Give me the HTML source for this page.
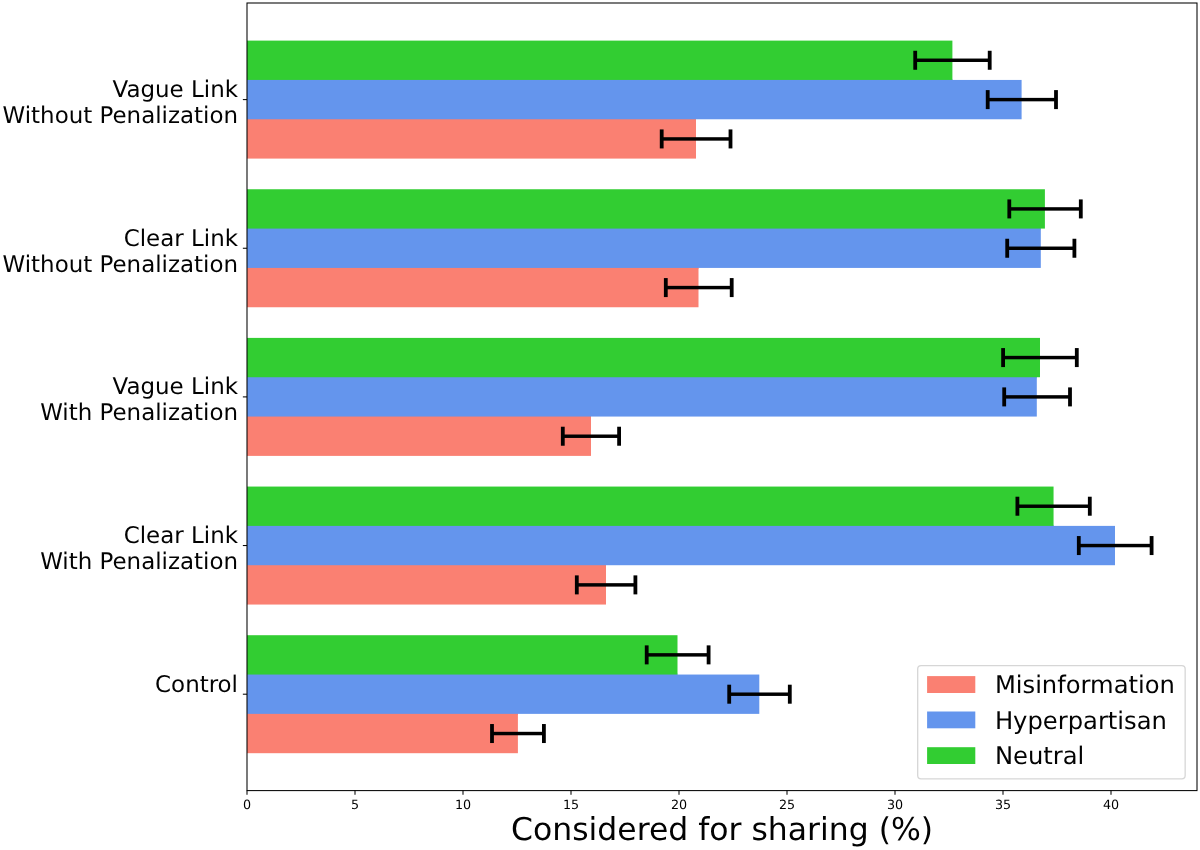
<!DOCTYPE html>
<html lang="en">
<head>
<meta charset="utf-8">
<title>Considered for sharing (%)</title>
<style>
html,body{margin:0;padding:0;background:#ffffff;}
body{width:1200px;height:850px;overflow:hidden;}
svg{display:block;will-change:transform;}
svg text{font-family:"DejaVu Sans","Liberation Sans",sans-serif;fill:#000000;text-rendering:geometricPrecision;opacity:0.99;}
</style>
</head>
<body>
<svg width="1200" height="850" viewBox="0 0 1200 850">
<rect x="0" y="0" width="1200" height="850" fill="#ffffff"/>
<g id="bars">
<rect x="247.00" y="118.26" width="449.00" height="2" fill="#fa8072"/>
<rect x="247.00" y="119.26" width="449.00" height="39.33" fill="#fa8072"/>
<rect x="247.00" y="78.94" width="705.40" height="2" fill="#6495ed"/>
<rect x="247.00" y="79.94" width="774.60" height="39.33" fill="#6495ed"/>
<rect x="247.00" y="40.60" width="705.40" height="39.33" fill="#32cd32"/>
<rect x="247.00" y="266.92" width="451.50" height="2" fill="#fa8072"/>
<rect x="247.00" y="267.92" width="451.50" height="39.33" fill="#fa8072"/>
<rect x="247.00" y="227.59" width="793.80" height="2" fill="#6495ed"/>
<rect x="247.00" y="228.59" width="793.80" height="39.33" fill="#6495ed"/>
<rect x="247.00" y="189.25" width="797.90" height="39.33" fill="#32cd32"/>
<rect x="247.00" y="415.56" width="344.00" height="2" fill="#fa8072"/>
<rect x="247.00" y="416.56" width="344.00" height="39.33" fill="#fa8072"/>
<rect x="247.00" y="376.23" width="789.80" height="2" fill="#6495ed"/>
<rect x="247.00" y="377.23" width="789.80" height="39.33" fill="#6495ed"/>
<rect x="247.00" y="337.90" width="793.00" height="39.33" fill="#32cd32"/>
<rect x="247.00" y="564.22" width="359.00" height="2" fill="#fa8072"/>
<rect x="247.00" y="565.22" width="359.00" height="39.33" fill="#fa8072"/>
<rect x="247.00" y="524.89" width="806.55" height="2" fill="#6495ed"/>
<rect x="247.00" y="525.89" width="868.00" height="39.33" fill="#6495ed"/>
<rect x="247.00" y="486.56" width="806.55" height="39.33" fill="#32cd32"/>
<rect x="247.00" y="712.87" width="270.90" height="2" fill="#fa8072"/>
<rect x="247.00" y="713.87" width="270.90" height="39.33" fill="#fa8072"/>
<rect x="247.00" y="673.54" width="430.50" height="2" fill="#6495ed"/>
<rect x="247.00" y="674.54" width="512.30" height="39.33" fill="#6495ed"/>
<rect x="247.00" y="635.21" width="430.50" height="39.33" fill="#32cd32"/>
</g>
<g id="errorbars" fill="#000000">
<rect x="915.20" y="58.54" width="74.50" height="3.45"/>
<rect x="913.30" y="50.77" width="3.80" height="19.00"/>
<rect x="987.80" y="50.77" width="3.80" height="19.00"/>
<rect x="987.70" y="97.88" width="68.30" height="3.45"/>
<rect x="985.80" y="90.10" width="3.80" height="19.00"/>
<rect x="1054.10" y="90.10" width="3.80" height="19.00"/>
<rect x="661.70" y="137.21" width="68.80" height="3.45"/>
<rect x="659.80" y="129.43" width="3.80" height="19.00"/>
<rect x="728.60" y="129.43" width="3.80" height="19.00"/>
<rect x="1009.30" y="207.20" width="71.50" height="3.45"/>
<rect x="1007.40" y="199.42" width="3.80" height="19.00"/>
<rect x="1078.90" y="199.42" width="3.80" height="19.00"/>
<rect x="1007.20" y="246.53" width="67.20" height="3.45"/>
<rect x="1005.30" y="238.75" width="3.80" height="19.00"/>
<rect x="1072.50" y="238.75" width="3.80" height="19.00"/>
<rect x="665.80" y="285.85" width="65.90" height="3.45"/>
<rect x="663.90" y="278.08" width="3.80" height="19.00"/>
<rect x="729.80" y="278.08" width="3.80" height="19.00"/>
<rect x="1003.10" y="355.84" width="73.70" height="3.45"/>
<rect x="1001.20" y="348.07" width="3.80" height="19.00"/>
<rect x="1074.90" y="348.07" width="3.80" height="19.00"/>
<rect x="1004.20" y="395.17" width="65.80" height="3.45"/>
<rect x="1002.30" y="387.40" width="3.80" height="19.00"/>
<rect x="1068.10" y="387.40" width="3.80" height="19.00"/>
<rect x="562.80" y="434.50" width="56.30" height="3.45"/>
<rect x="560.90" y="426.73" width="3.80" height="19.00"/>
<rect x="617.20" y="426.73" width="3.80" height="19.00"/>
<rect x="1017.40" y="504.50" width="72.40" height="3.45"/>
<rect x="1015.50" y="496.72" width="3.80" height="19.00"/>
<rect x="1087.90" y="496.72" width="3.80" height="19.00"/>
<rect x="1078.80" y="543.83" width="72.80" height="3.45"/>
<rect x="1076.90" y="536.05" width="3.80" height="19.00"/>
<rect x="1149.70" y="536.05" width="3.80" height="19.00"/>
<rect x="576.80" y="583.16" width="58.60" height="3.45"/>
<rect x="574.90" y="575.38" width="3.80" height="19.00"/>
<rect x="633.50" y="575.38" width="3.80" height="19.00"/>
<rect x="646.70" y="653.14" width="61.90" height="3.45"/>
<rect x="644.80" y="645.37" width="3.80" height="19.00"/>
<rect x="706.70" y="645.37" width="3.80" height="19.00"/>
<rect x="729.20" y="692.48" width="60.60" height="3.45"/>
<rect x="727.30" y="684.70" width="3.80" height="19.00"/>
<rect x="787.90" y="684.70" width="3.80" height="19.00"/>
<rect x="492.00" y="731.81" width="51.90" height="3.45"/>
<rect x="490.10" y="724.03" width="3.80" height="19.00"/>
<rect x="542.00" y="724.03" width="3.80" height="19.00"/>
</g>
<rect id="spines" x="247.00" y="3.00" width="950.00" height="787.60" fill="none" stroke="#000000" stroke-width="1.04"/>
<g id="ticks" stroke="#000000" stroke-width="1.04">
<line x1="247.00" y1="790.60" x2="247.00" y2="794.75"/>
<line x1="355.00" y1="790.60" x2="355.00" y2="794.75"/>
<line x1="463.00" y1="790.60" x2="463.00" y2="794.75"/>
<line x1="571.00" y1="790.60" x2="571.00" y2="794.75"/>
<line x1="679.00" y1="790.60" x2="679.00" y2="794.75"/>
<line x1="787.00" y1="790.60" x2="787.00" y2="794.75"/>
<line x1="895.00" y1="790.60" x2="895.00" y2="794.75"/>
<line x1="1003.00" y1="790.60" x2="1003.00" y2="794.75"/>
<line x1="1111.00" y1="790.60" x2="1111.00" y2="794.75"/>
<line x1="242.85" y1="99.60" x2="247.00" y2="99.60"/>
<line x1="242.85" y1="248.25" x2="247.00" y2="248.25"/>
<line x1="242.85" y1="396.90" x2="247.00" y2="396.90"/>
<line x1="242.85" y1="545.55" x2="247.00" y2="545.55"/>
<line x1="242.85" y1="694.20" x2="247.00" y2="694.20"/>
</g>
<g id="xticklabels" font-size="12.7" text-anchor="middle">
<text x="247.00" y="808.7">0</text>
<text x="355.00" y="808.7">5</text>
<text x="463.00" y="808.7">10</text>
<text x="571.00" y="808.7">15</text>
<text x="679.00" y="808.7">20</text>
<text x="787.00" y="808.7">25</text>
<text x="895.00" y="808.7">30</text>
<text x="1003.00" y="808.7">35</text>
<text x="1111.00" y="808.7">40</text>
</g>
<g id="yticklabels" font-size="22.95" text-anchor="end">
<text x="238.0" y="97.00">Vague Link</text>
<text x="238.0" y="123.00">Without Penalization</text>
<text x="238.0" y="245.65">Clear Link</text>
<text x="238.0" y="271.65">Without Penalization</text>
<text x="238.0" y="394.30">Vague Link</text>
<text x="238.0" y="420.30">With Penalization</text>
<text x="238.0" y="542.95">Clear Link</text>
<text x="238.0" y="568.95">With Penalization</text>
<text x="238.0" y="691.60">Control</text>
</g>
<g><text id="xlabel" x="722.1" y="840.2" font-size="31.46" text-anchor="middle">Considered for sharing (%)</text></g>
<g id="legend">
<rect x="917.7" y="665.55" width="267.45" height="113.25" rx="3.4" ry="3.4" fill="#ffffff" fill-opacity="0.8" stroke="#cccccc" stroke-opacity="0.8" stroke-width="1.3"/>
<rect x="927.1" y="676.1" width="48.2" height="16.90" fill="#fa8072"/>
<g><text x="994.9" y="693.35" font-size="24.22">Misinformation</text></g>
<rect x="927.1" y="711.5" width="48.2" height="16.80" fill="#6495ed"/>
<g><text x="994.9" y="728.65" font-size="24.22">Hyperpartisan</text></g>
<rect x="927.1" y="747.2" width="48.2" height="16.80" fill="#32cd32"/>
<g><text x="994.9" y="764.35" font-size="24.22">Neutral</text></g>
</g>
</svg>
</body>
</html>
